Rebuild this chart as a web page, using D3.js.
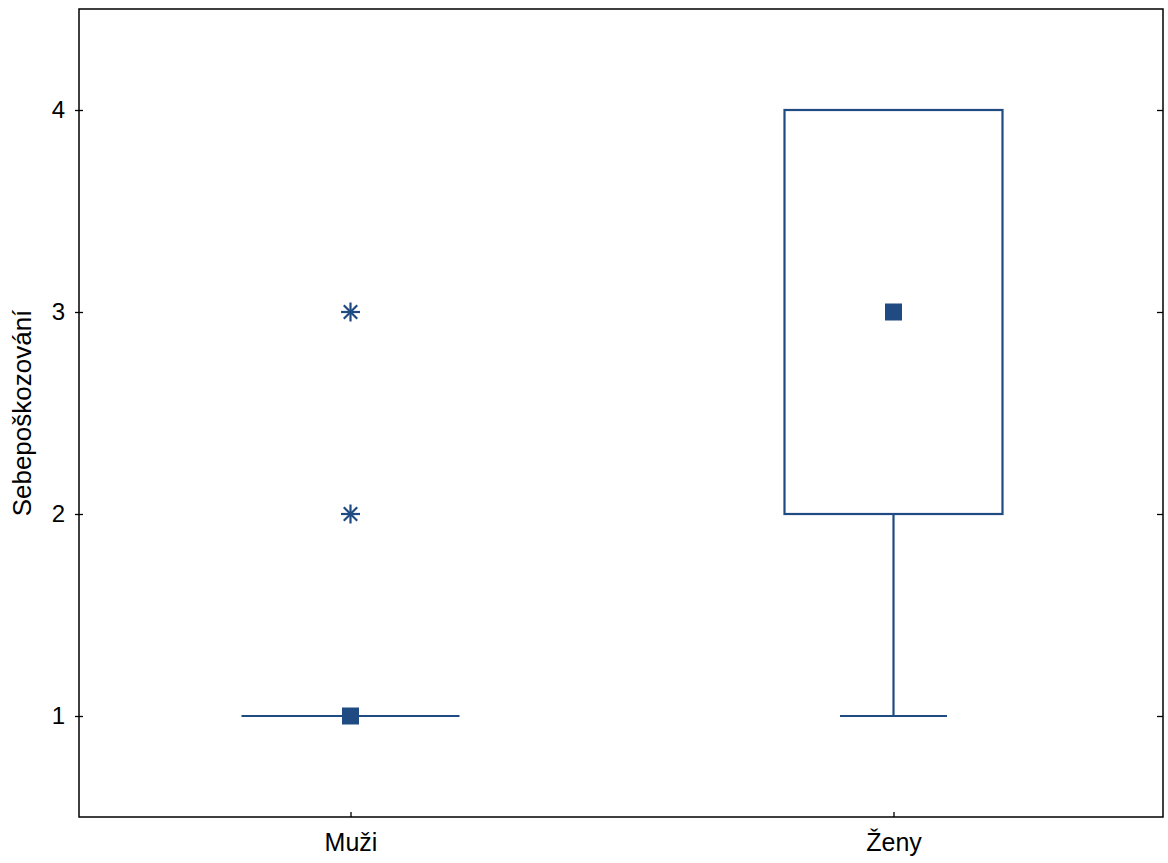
<!DOCTYPE html>
<html><head><meta charset="utf-8">
<script src="https://cdn.jsdelivr.net/npm/d3@7"></script>
<style>body{margin:0;background:#fff}</style>
</head><body>
<svg id="c" width="1168" height="863"></svg>
<script>
const categories = ["Muži", "Ženy"];
const medians = [1, 3];
const q1 = [1, 2];
const q3 = [1, 4];
const whiskerLow = [1, 1];
const whiskerHigh = [1, 4];
const outliers = [[2, 3], []];
const yTicks = [1, 2, 3, 4];
const yLabel = "Sebepoškozování";

const color = "#1f4a82";
const svg = d3.select("#c");
const m = {l: 79, r: 1163, t: 9, b: 817};
const x = d3.scalePoint().domain(categories).range([m.l, m.r + 2]).padding(0.5);
const y = d3.scaleLinear().domain([0.5, 4.5]).range([m.b, m.t]);
const font = "Liberation Sans, Arial, sans-serif";

// frame
svg.append("rect").attr("x", m.l).attr("y", m.t).attr("width", m.r - m.l).attr("height", m.b - m.t)
  .attr("fill", "none").attr("stroke", "#000").attr("stroke-width", 1.5);

// left axis
const ly = svg.append("g").attr("transform", `translate(${m.l},0)`)
  .call(d3.axisLeft(y).tickValues(yTicks).tickSize(4).tickFormat(d3.format("d")));
ly.select(".domain").remove();
ly.selectAll(".tick line").attr("x2", 4).attr("x1", -4).attr("stroke-width", 1.3);
ly.selectAll(".tick text").attr("x", -14).style("font-family", font).style("font-size", "24px").attr("fill", "#000");

// right ticks
const ry = svg.append("g").attr("transform", `translate(${m.r},0)`)
  .call(d3.axisLeft(y).tickValues(yTicks).tickSize(6).tickFormat(""));
ry.select(".domain").remove();
ry.selectAll(".tick line").attr("stroke-width", 1.3);

// bottom axis
const bx = svg.append("g").attr("transform", `translate(0,${m.b})`)
  .call(d3.axisBottom(x).tickSize(-5));
bx.select(".domain").remove();
bx.selectAll(".tick line").attr("stroke-width", 1.3);
bx.selectAll(".tick text").attr("y", 16).style("font-family", font).style("font-size", "25px").attr("fill", "#000");

// y label
svg.append("text").attr("transform", `translate(31,${413}) rotate(-90)`)
  .attr("text-anchor", "middle").style("font-family", font).style("font-size", "26px").text(yLabel);

const boxW = 218, capW = 107, sq = 17, ast = 9.5;
categories.forEach((c, i) => {
  const cx = x(c);
  const g = svg.append("g").attr("stroke", color).attr("fill", "none").attr("stroke-width", 2.2);
  // whisker
  g.append("line").attr("x1", cx).attr("x2", cx).attr("y1", y(whiskerLow[i])).attr("y2", y(q1[i]));
  g.append("line").attr("x1", cx).attr("x2", cx).attr("y1", y(q3[i])).attr("y2", y(whiskerHigh[i]));
  if (whiskerLow[i] !== q1[i]) g.append("line").attr("x1", cx - capW / 2).attr("x2", cx + capW / 2).attr("y1", y(whiskerLow[i])).attr("y2", y(whiskerLow[i]));
  if (whiskerHigh[i] !== q3[i]) g.append("line").attr("x1", cx - capW / 2).attr("x2", cx + capW / 2).attr("y1", y(whiskerHigh[i])).attr("y2", y(whiskerHigh[i]));
  // box
  if (q3[i] === q1[i]) {
    g.append("line").attr("x1", cx - boxW / 2).attr("x2", cx + boxW / 2).attr("y1", y(q1[i])).attr("y2", y(q1[i]));
  } else {
    g.append("rect").attr("x", cx - boxW / 2).attr("width", boxW).attr("y", y(q3[i])).attr("height", y(q1[i]) - y(q3[i]));
  }
  // median
  svg.append("rect").attr("x", cx - sq / 2).attr("y", y(medians[i]) - sq / 2).attr("width", sq).attr("height", sq).attr("fill", color);
  // outliers
  outliers[i].forEach(v => {
    const oy = y(v);
    const a = svg.append("g").attr("stroke", color).attr("stroke-width", 2.2).attr("transform", `translate(${cx},${oy})`);
    [0, 45, 90, 135].forEach(ang => {
      const r = ang * Math.PI / 180;
      a.append("line").attr("x1", -ast * Math.cos(r)).attr("y1", -ast * Math.sin(r)).attr("x2", ast * Math.cos(r)).attr("y2", ast * Math.sin(r));
    });
  });
});
</script>
</body></html>
